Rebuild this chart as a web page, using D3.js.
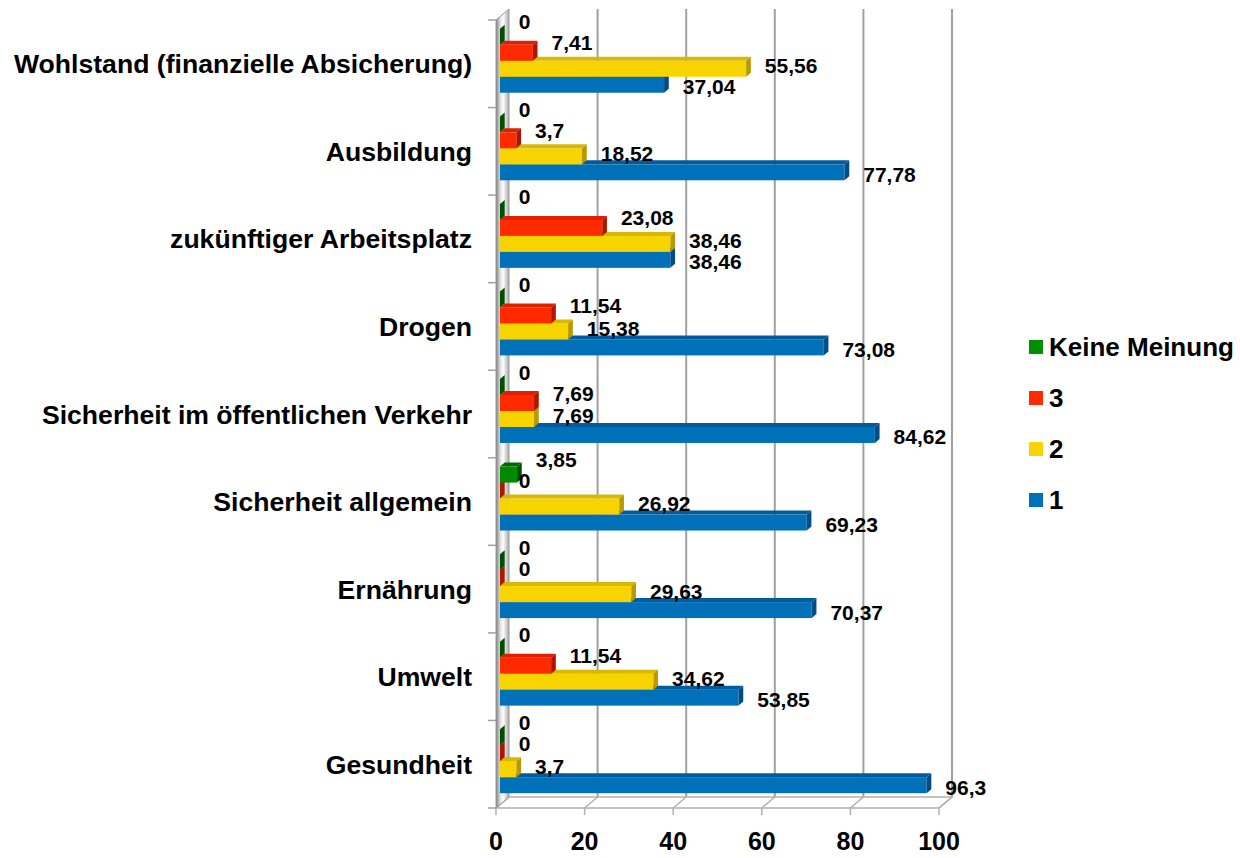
<!DOCTYPE html>
<html>
<head>
<meta charset="utf-8">
<script src="https://cdn.jsdelivr.net/npm/d3@7"></script>
<style>
  body { margin: 0; background: #fff; }
  svg { display: block; font-family: "Liberation Sans", Arial, sans-serif; font-weight: bold; }
</style>
</head>
<body>
<div id="chart"></div>
<script>
var categories = ["Wohlstand (finanzielle Absicherung)", "Ausbildung", "zukünftiger Arbeitsplatz", "Drogen",
  "Sicherheit im öffentlichen Verkehr", "Sicherheit allgemein", "Ernährung", "Umwelt", "Gesundheit"];
var series = ["Keine Meinung", "3", "2", "1"];
var keineMeinung = [0, 0, 0, 0, 0, 3.85, 0, 0, 0];
var drei = [7.41, 3.7, 23.08, 11.54, 7.69, 0, 0, 11.54, 0];
var zwei = [55.56, 18.52, 38.46, 15.38, 7.69, 26.92, 29.63, 34.62, 3.7];
var eins = [37.04, 77.78, 38.46, 73.08, 84.62, 69.23, 70.37, 53.85, 96.3];
var xTicks = [0, 20, 40, 60, 80, 100];

var values = [keineMeinung, drei, zwei, eins];

// face colours: front, top, side
var colors = [
  { front: "#008a00", top: "#006c00", side: "#004f00", key: "#008f00" },
  { front: "#ff2a00", top: "#e01e00", side: "#b01500", key: "#ff2a00" },
  { front: "#f7d400", top: "#d8b800", side: "#b89a00", key: "#f7d400" },
  { front: "#0070b8", top: "#005c9c", side: "#004c84", key: "#0070b8" }
];
// vertical nudge of the value labels per series
var labelShift = [-15, -10, -3, 2];

var width = 1240, height = 858;
var yTop = 20, yBot = 808;
var DX = 13, DY = -11;        // depth of the plot box
var bfx = 4, bfy = -3;        // bar front face offset
var bdx = 4.7, bdy = -4;      // bar depth

var svg = d3.select("#chart").append("svg")
  .attr("width", width)
  .attr("height", height);

svg.append("rect").attr("width", width).attr("height", height).attr("fill", "#fff");

var x = d3.scaleLinear().domain([0, 100]).range([496, 939]);
var y0 = d3.scaleBand().domain(categories).range([yTop, yBot])
  .paddingInner(0.27).paddingOuter(0.135);
var y1 = d3.scaleBand().domain(series).range([0, y0.bandwidth()]);
var step = y0.step();

var defs = svg.append("defs");
var grad = defs.append("linearGradient").attr("id", "wall")
  .attr("x1", "0%").attr("x2", "100%").attr("y1", "0%").attr("y2", "0%");
grad.append("stop").attr("offset", "0%").attr("stop-color", "#7e7e7e");
grad.append("stop").attr("offset", "35%").attr("stop-color", "#e4e4e4");
grad.append("stop").attr("offset", "55%").attr("stop-color", "#ffffff");
grad.append("stop").attr("offset", "100%").attr("stop-color", "#a8a8a8");

// back wall grid lines
svg.append("g").selectAll("line")
  .data(xTicks.slice(1))
  .enter().append("line")
    .attr("x1", function(d) { return x(d) + DX; })
    .attr("x2", function(d) { return x(d) + DX; })
    .attr("y1", yTop + DY)
    .attr("y2", yBot + DY)
    .attr("stroke", "#a0a0a0")
    .attr("stroke-width", 2);

// floor
var floor = svg.append("g");
floor.append("path")
  .attr("d", "M" + x(0) + "," + yBot + "L" + x(100) + "," + yBot +
    "L" + (x(100) + DX) + "," + (yBot + DY) + "L" + (x(0) + DX) + "," + (yBot + DY) + "Z")
  .attr("fill", "#fff")
  .attr("stroke", "#b0b0b0")
  .attr("stroke-width", 1.5);
floor.selectAll(".fl")
  .data(xTicks)
  .enter().append("line")
    .attr("x1", function(d) { return x(d); })
    .attr("x2", function(d) { return x(d) + DX; })
    .attr("y1", yBot)
    .attr("y2", yBot + DY)
    .attr("stroke", "#b0b0b0")
    .attr("stroke-width", 1.5);
floor.selectAll(".tk")
  .data(xTicks)
  .enter().append("line")
    .attr("x1", function(d) { return x(d); })
    .attr("x2", function(d) { return x(d); })
    .attr("y1", yBot)
    .attr("y2", yBot + 7)
    .attr("stroke", "#b0b0b0")
    .attr("stroke-width", 1.5);

// left side wall
svg.append("path")
  .attr("d", "M" + x(0) + "," + yTop + "L" + (x(0) + DX) + "," + (yTop + DY) +
    "L" + (x(0) + DX) + "," + (yBot + DY) + "L" + x(0) + "," + yBot + "Z")
  .attr("fill", "url(#wall)")
  .attr("stroke", "#9a9a9a")
  .attr("stroke-width", 1);

// category ticks on the left
svg.append("g").selectAll("line")
  .data(d3.range(categories.length + 1))
  .enter().append("line")
    .attr("x1", x(0) - 8)
    .attr("x2", x(0))
    .attr("y1", function(i) { return yTop + i * step; })
    .attr("y2", function(i) { return yTop + i * step; })
    .attr("stroke", "#a0a0a0")
    .attr("stroke-width", 1.5);

// bars, drawn from the bottom up so upper bars cover the top faces below
var bars = [];
categories.forEach(function(c, ci) {
  series.forEach(function(s, si) {
    bars.push({ c: c, ci: ci, s: s, si: si, v: values[si][ci] });
  });
});
bars.reverse();

var barG = svg.append("g").selectAll("g")
  .data(bars)
  .enter().append("g");

function geom(d) {
  var x0 = x(0) + bfx, x1 = x(d.v) + bfx;
  var yt = y0(d.c) + y1(d.s) + bfy, h = y1.bandwidth();
  return { x0: x0, x1: x1, yt: yt, h: h };
}

barG.append("rect")
  .attr("x", function(d) { return geom(d).x0; })
  .attr("y", function(d) { return geom(d).yt; })
  .attr("width", function(d) { var g = geom(d); return g.x1 - g.x0; })
  .attr("height", function(d) { return geom(d).h; })
  .attr("fill", function(d) { return colors[d.si].front; });

barG.append("path")
  .attr("d", function(d) {
    var g = geom(d);
    return "M" + g.x0 + "," + g.yt + "L" + g.x1 + "," + g.yt +
      "L" + (g.x1 + bdx) + "," + (g.yt + bdy) + "L" + (g.x0 + bdx) + "," + (g.yt + bdy) + "Z";
  })
  .attr("fill", function(d) { return colors[d.si].top; });

barG.append("path")
  .attr("d", function(d) {
    var g = geom(d);
    return "M" + g.x1 + "," + g.yt + "L" + (g.x1 + bdx) + "," + (g.yt + bdy) +
      "L" + (g.x1 + bdx) + "," + (g.yt + g.h + bdy) + "L" + g.x1 + "," + (g.yt + g.h) + "Z";
  })
  .attr("fill", function(d) { return colors[d.si].side; });

// value labels
svg.append("g").selectAll("text")
  .data(bars)
  .enter().append("text")
    .attr("x", function(d) { return geom(d).x1 + bdx + 14; })
    .attr("y", function(d) { var g = geom(d); return g.yt + g.h / 2 + labelShift[d.si] + 7.5; })
    .attr("font-size", 21)
    .attr("fill", "#000")
    .text(function(d) { return String(d.v).replace(".", ","); });

// category labels
svg.append("g").selectAll("text")
  .data(categories)
  .enter().append("text")
    .attr("x", 472)
    .attr("y", function(d) { return y0(d) + y0.bandwidth() / 2 + 9.5; })
    .attr("text-anchor", "end")
    .attr("font-size", 26.6)
    .attr("fill", "#000")
    .text(function(d) { return d; });

// x tick labels
svg.append("g").selectAll("text")
  .data(xTicks)
  .enter().append("text")
    .attr("x", function(d) { return x(d); })
    .attr("y", 850)
    .attr("text-anchor", "middle")
    .attr("font-size", 25)
    .attr("fill", "#000")
    .text(function(d) { return d; });

// legend
var legend = svg.append("g").selectAll("g")
  .data(series)
  .enter().append("g")
    .attr("transform", function(d, i) { return "translate(1029," + (347 + i * 51) + ")"; });
legend.append("rect")
  .attr("x", 0).attr("y", -7).attr("width", 14).attr("height", 14)
  .attr("fill", function(d, i) { return colors[i].key; });
legend.append("text")
  .attr("x", 20).attr("y", 9)
  .attr("font-size", 26)
  .attr("fill", "#000")
  .text(function(d) { return d; });
</script>
</body>
</html>
